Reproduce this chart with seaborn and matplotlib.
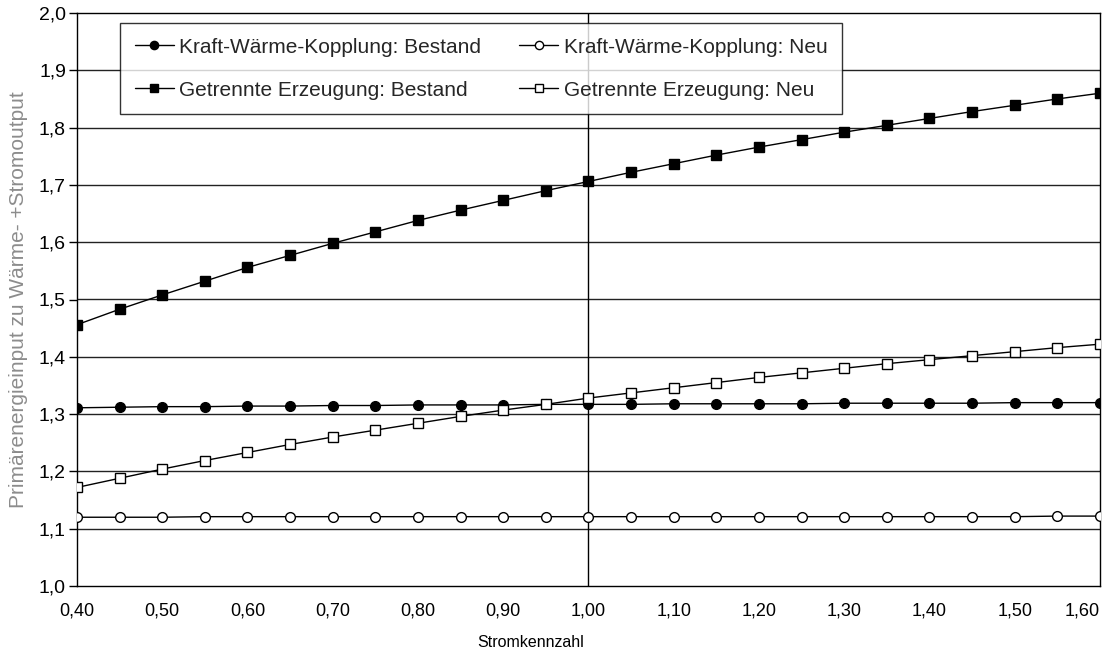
import matplotlib
matplotlib.use("Agg")
import matplotlib.pyplot as plt
import seaborn as sns
import numpy as np
import pandas as pd
from matplotlib.ticker import FixedLocator, FuncFormatter

stromkennzahl = [0.40, 0.45, 0.50, 0.55, 0.60, 0.65, 0.70, 0.75, 0.80, 0.85, 0.90, 0.95, 1.00,
                 1.05, 1.10, 1.15, 1.20, 1.25, 1.30, 1.35, 1.40, 1.45, 1.50, 1.55, 1.60]

kwk_bestand = [1.311, 1.312, 1.313, 1.313, 1.314, 1.314, 1.315, 1.315, 1.316, 1.316, 1.316, 1.317, 1.317,
               1.317, 1.318, 1.318, 1.318, 1.318, 1.319, 1.319, 1.319, 1.319, 1.320, 1.320, 1.320]
kwk_neu = [1.120, 1.120, 1.120, 1.121, 1.121, 1.121, 1.121, 1.121, 1.121, 1.121, 1.121, 1.121, 1.121,
           1.121, 1.121, 1.121, 1.121, 1.121, 1.121, 1.121, 1.121, 1.121, 1.121, 1.122, 1.122]
getrennt_bestand = [1.456, 1.483, 1.508, 1.532, 1.556, 1.577, 1.598, 1.618, 1.638, 1.656, 1.673, 1.690, 1.706,
                    1.722, 1.737, 1.752, 1.766, 1.779, 1.792, 1.804, 1.816, 1.828, 1.839, 1.850, 1.860]
getrennt_neu = [1.172, 1.188, 1.204, 1.219, 1.233, 1.247, 1.260, 1.272, 1.284, 1.296, 1.307, 1.317, 1.328,
                1.337, 1.346, 1.355, 1.364, 1.372, 1.380, 1.388, 1.395, 1.402, 1.409, 1.416, 1.422]

series_names = ["Kraft-Wärme-Kopplung: Bestand", "Kraft-Wärme-Kopplung: Neu",
                "Getrennte Erzeugung: Bestand", "Getrennte Erzeugung: Neu"]
x_label = "Stromkennzahl"
y_label = "Primärenergieinput zu Wärme- +Stromoutput"

sns.set_theme(style="white")
plt.rcParams['font.family'] = ['Liberation Sans', 'DejaVu Sans']

df = pd.DataFrame({"x": stromkennzahl,
                   series_names[0]: kwk_bestand,
                   series_names[1]: kwk_neu,
                   series_names[2]: getrennt_bestand,
                   series_names[3]: getrennt_neu})

fig = plt.figure(figsize=(11.04, 6.53), dpi=100)
ax = fig.add_axes([77/1104, 67/653, (1100-77)/1104, (586-13)/653])

styles = {
    series_names[0]: dict(marker="o", mfc="black", ms=7),
    series_names[1]: dict(marker="o", mfc="white", ms=7),
    series_names[2]: dict(marker="s", mfc="black", ms=7.5),
    series_names[3]: dict(marker="s", mfc="white", ms=7.5),
}
for yv in np.arange(1.1, 2.0, 0.1):
    ax.axhline(yv, color="#222222", lw=1.0, zorder=0)
ax.axvline(1.0, color="black", lw=1.0, zorder=0)

for name in series_names:
    st = styles[name]
    sns.lineplot(data=df, x="x", y=name, ax=ax, color="black", lw=1.0,
                 marker=st["marker"], markerfacecolor=st["mfc"], markeredgecolor="black",
                 markeredgewidth=1.0, markersize=st["ms"], label=name, zorder=3)

ax.set_xlim(0.40, 1.60)
ax.set_ylim(1.0, 2.0)

ax.xaxis.set_major_locator(FixedLocator(np.round(np.arange(0.4, 1.601, 0.1), 2)))
ax.xaxis.set_minor_locator(FixedLocator([0.4, 1.0, 1.6]))
ax.xaxis.set_major_formatter(FuncFormatter(lambda v, p: f"{v:.2f}".replace(".", ",")))
ax.yaxis.set_major_locator(FixedLocator(np.round(np.arange(1.0, 2.001, 0.1), 1)))
ax.yaxis.set_major_formatter(FuncFormatter(lambda v, p: f"{v:.1f}".replace(".", ",")))
ax.tick_params(axis="x", which="major", length=0, pad=12, labelsize=13, colors="black")
ax.tick_params(axis="x", which="minor", length=6, width=1, direction="out", bottom=True, colors="black")
ax.tick_params(axis="y", which="major", length=6, width=1, direction="out", left=True,
               labelsize=14, pad=2, colors="black")

fig.canvas.draw()
xt = ax.get_xticklabels()
xt[-1].set_horizontalalignment("right")
xt[-1].set_x(1.60)

for sp in ax.spines.values():
    sp.set_color("black")
    sp.set_linewidth(1.0)
    sp.set_visible(True)

ax.set_xlabel(x_label, fontsize=11.5, color="black", labelpad=13)
ax.xaxis.set_label_coords((531-77)/1023, -0.085)
ax.set_ylabel(y_label, fontsize=15, color="#8c8c8c", labelpad=8)

handles, labels = ax.get_legend_handles_labels()
order = [0, 2, 1, 3]
leg = ax.legend([handles[i] for i in order], [labels[i] for i in order],
                loc="upper left", bbox_to_anchor=((120-77)/1023, (586-23)/573), ncol=2,
                fontsize=15, frameon=True, fancybox=False, edgecolor="black",
                handlelength=1.9, handletextpad=0.25, columnspacing=1.8, labelspacing=1.15,
                borderpad=0.7, markerscale=0.85, borderaxespad=0)
leg.get_frame().set_linewidth(1.0)
leg.set_zorder(5)

fig.savefig("out.png", dpi=100)
